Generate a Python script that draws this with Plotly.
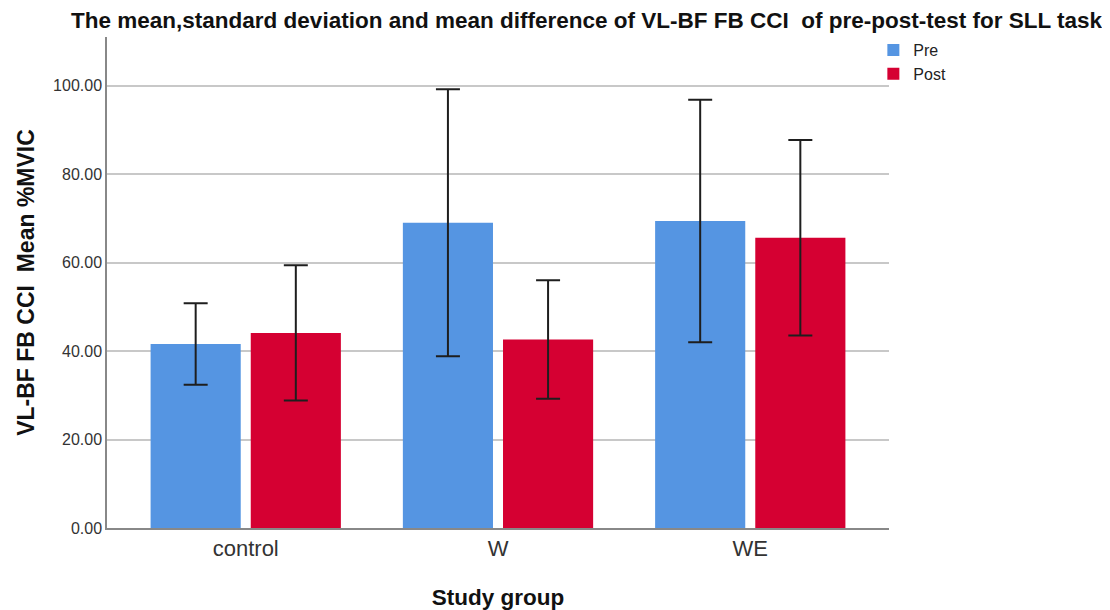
import plotly.graph_objects as go

groups = ["control", "W", "WE"]
pre_mean = [41.6, 69.0, 69.4]
pre_sd = [9.2, 30.2, 27.4]
post_mean = [44.1, 42.6, 65.6]
post_sd = [15.3, 13.4, 22.1]
y_ticks = [0, 20, 40, 60, 80, 100]

fig = go.Figure()
err_style = dict(type="data", visible=True, color="#1e1e1e", thickness=2, width=12)
fig.add_trace(go.Bar(name="Pre", x=groups, y=pre_mean, marker_color="#5595E2",
                     marker_line_width=0,
                     error_y=dict(array=pre_sd, **err_style)))
fig.add_trace(go.Bar(name="Post", x=groups, y=post_mean, marker_color="#D50032",
                     marker_line_width=0,
                     error_y=dict(array=post_sd, **err_style)))

fig.update_layout(
    width=1102, height=602,
    barmode="group", bargap=0.206, bargroupgap=0.1,
    paper_bgcolor="white", plot_bgcolor="white",
    margin=dict(l=99, r=221, t=29, b=82),
    font=dict(family="Liberation Sans, Arial, sans-serif", color="#222"),
    title=dict(text="<b>The mean,standard deviation and mean difference of VL-BF FB CCI  of pre-post-test for SLL task</b>",
               x=0.525, xref="container", xanchor="center", y=0.993, yanchor="top",
               font=dict(size=22.5, color="#111")),
    legend=dict(x=0.98, y=1.008, xanchor="left", yanchor="top", font=dict(size=16),
                bgcolor="rgba(0,0,0,0)", tracegroupgap=0, itemsizing="constant"),
    showlegend=True,
)
fig.update_xaxes(range=[-0.55, 2.55], showline=True, linecolor="#888", linewidth=1.5, ticks="",
                 tickfont=dict(size=22, color="#333"), automargin=False,
                 title=dict(text="<b>Study group</b>", font=dict(size=22.5, color="#111"), standoff=29))
fig.update_yaxes(range=[0, 111], tickvals=y_ticks, ticktext=[f"{v:.2f}" for v in y_ticks],
                 showline=True, linecolor="#888", linewidth=1.5, ticks="",
                 showgrid=True, gridcolor="#c8c8c8", gridwidth=1.5, zeroline=False,
                 tickfont=dict(size=16, color="#333"), automargin=False,
                 title=dict(text="<b>VL-BF FB CCI  Mean %MVIC</b>", font=dict(size=23, color="#111"), standoff=12))

fig.write_html("out.html")
